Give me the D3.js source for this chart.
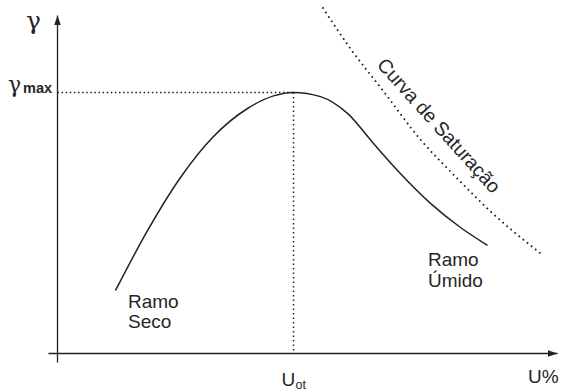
<!DOCTYPE html>
<html>
<head>
<meta charset="utf-8">
<script src="https://cdn.jsdelivr.net/npm/d3@7/dist/d3.min.js"></script>
<style>
  html, body { margin: 0; padding: 0; background: #fff; }
  svg { display: block; }
  text { font-family: "Liberation Sans", Arial, sans-serif; fill: #262626; }
</style>
</head>
<body>
<script>
// Compaction curve: moisture content (U%) vs dry unit weight (γ), arbitrary units
const compactionU = [11.6, 18.0, 24.6, 31.2, 38.0, 43.2, 47.2, 52.6, 58.0, 63.2, 68.0, 74.6, 80.6, 86.0];
const compactionG = [18.0, 35.1, 50.3, 62.0, 70.0, 73.6, 74.6, 73.4, 68.6, 60.0, 52.3, 42.9, 36.0, 30.9];

// Zero-air-voids (saturation) curve
const saturationU = [53.0, 58.6, 65.2, 72.6, 79.2, 86.6, 96.6];
const saturationG = [98.9, 87.1, 74.9, 61.1, 51.1, 40.6, 28.6];

// Optimum point
const optimumU = 47.2;
const maxGamma = 74.6;

// Axis extents
const xAxisExtent = [-1.8, 100];
const yAxisExtent = [-2.6, 96.6];

const W = 561, H = 392;
const svg = d3.select("body").append("svg").attr("width", W).attr("height", H);

const x = d3.scaleLinear().domain([0, 100]).range([57.5, 557.5]);
const y = d3.scaleLinear().domain([0, 100]).range([353.5, 3.5]);

const ink = "#222";

// Arrowhead
const defs = svg.append("defs");
defs.append("marker")
  .attr("id", "arrow")
  .attr("viewBox", "0 0 10 8")
  .attr("refX", 10).attr("refY", 4)
  .attr("markerWidth", 10).attr("markerHeight", 8)
  .attr("markerUnits", "userSpaceOnUse")
  .attr("orient", "auto")
  .append("path").attr("d", "M0,0.6 L10,4 L0,7.4 Z").attr("fill", ink);

// Axes
svg.append("line")
  .attr("x1", x(xAxisExtent[0])).attr("x2", x(xAxisExtent[1]))
  .attr("y1", y(0)).attr("y2", y(0))
  .attr("stroke", ink).attr("stroke-width", 1.3)
  .attr("marker-end", "url(#arrow)");
svg.append("line")
  .attr("x1", x(0)).attr("x2", x(0))
  .attr("y1", y(yAxisExtent[0])).attr("y2", y(yAxisExtent[1]))
  .attr("stroke", ink).attr("stroke-width", 1.3)
  .attr("marker-end", "url(#arrow)");

// Reference lines at the optimum
svg.append("line")
  .attr("x1", x(0)).attr("x2", x(optimumU))
  .attr("y1", y(maxGamma)).attr("y2", y(maxGamma))
  .attr("stroke", ink).attr("stroke-width", 1.5)
  .attr("stroke-dasharray", "1.5,2.6");
svg.append("line")
  .attr("x1", x(optimumU)).attr("x2", x(optimumU))
  .attr("y1", y(maxGamma)).attr("y2", y(0))
  .attr("stroke", ink).attr("stroke-width", 1.5)
  .attr("stroke-dasharray", "1.5,3");

const line = d3.line().x(d => x(d[0])).y(d => y(d[1])).curve(d3.curveMonotoneX);

// Compaction curve
svg.append("path")
  .datum(compactionU.map((u, i) => [u, compactionG[i]]))
  .attr("d", line)
  .attr("fill", "none").attr("stroke", ink).attr("stroke-width", 1.5);

// Saturation curve
svg.append("path")
  .datum(saturationU.map((u, i) => [u, saturationG[i]]))
  .attr("d", line)
  .attr("fill", "none").attr("stroke", ink).attr("stroke-width", 1.8)
  .attr("stroke-dasharray", "1.7,3.6");

// Labels
function label(txt, px, py, size, opts = {}) {
  const t = svg.append("text")
    .attr("x", px).attr("y", py)
    .attr("font-size", size)
    .text(txt);
  if (opts.weight) t.attr("font-weight", opts.weight);
  if (opts.family) t.style("font-family", opts.family);
  return t;
}

// γ axis label
label("γ", 26, 29, 25, { family: "'DejaVu Serif', serif" });
// γmax label
label("γ", 8, 92, 22, { family: "'DejaVu Serif', serif" });
label("max", 23, 93, 14.5, { weight: "bold" });

// U% axis label
label("U%", 528, 383, 19);
// Uot label
label("U", x(optimumU) - 12, 386, 19);
label("ot", x(optimumU) + 2, 389, 12.5);

// Branch labels
label("Ramo", 128, 307.5, 19);
label("Seco", 128, 328, 19);
label("Ramo", 428, 266, 19);
label("Úmido", 428, 287, 19);

// Saturation curve label along the dotted line
svg.append("text")
  .attr("transform", "translate(434,130) rotate(48)")
  .attr("text-anchor", "middle")
  .attr("font-size", 19.5)
  .text("Curva de Saturação");
</script>
</body>
</html>
